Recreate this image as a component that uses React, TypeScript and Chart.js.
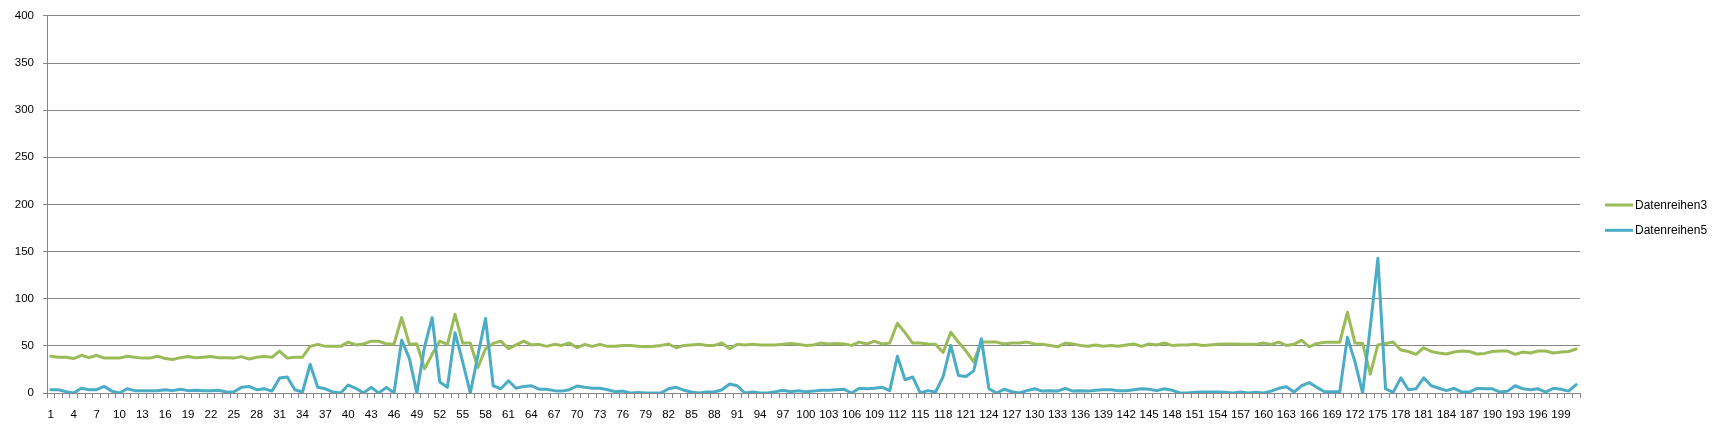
import React, { useEffect, useRef } from 'react';
import { Chart, registerables } from 'chart.js';

Chart.register(...registerables);

// Categories 1..201
const categories: string[] = Array.from({ length: 201 }, (_, i) => String(i + 1));

const seriesNames = ['Datenreihen3', 'Datenreihen5'];
const seriesColors = ['#9BBB59', '#4BACC6'];

const datenreihen3: number[] = [
  39, 38, 38, 36.5, 40, 37.5, 40, 37, 37, 37,
  39, 38, 37, 37, 39, 36.5, 35.5, 37.5, 38.6, 37.5,
  38, 38.6, 37.5, 37.5, 37, 38.6, 36, 38, 38.6, 38,
  44.5, 37, 38, 38, 49.5, 51.6, 49.5, 49.5, 49.5, 54,
  51, 52, 55, 55, 52, 52, 80, 52, 52, 25.6,
  41, 55, 51.6, 83.5, 53, 53, 27, 47, 52.6, 55,
  47, 51, 55, 51, 51.6, 49.5, 51.6, 50.5, 53, 48,
  51.6, 49.5, 51.6, 49.5, 49.5, 50.5, 50.5, 49.5, 49, 49.5,
  50.5, 52, 48, 50.5, 51, 51.6, 50.5, 50.5, 53, 47,
  51.6, 51, 51.6, 51, 51, 51, 51.6, 52.6, 51.6, 50.5,
  51, 53, 52, 52.6, 52, 50.5, 54, 52, 55, 52,
  53, 74, 64, 53, 53, 52, 51.6, 43, 64.5, 54,
  44.5, 33, 54, 54, 54, 52, 53, 53, 54, 52,
  51.6, 50.5, 49, 53, 52, 50.5, 49.5, 51, 49.5, 50.5,
  49.5, 51, 52, 49.5, 52, 51, 53, 50.5, 51, 51,
  51.6, 50.5, 51, 51.6, 52, 52, 51.6, 51.6, 51.6, 53,
  51.6, 54, 50.5, 51.6, 56, 49, 52.6, 53.7, 53.7, 53.7,
  85.6, 53, 52.6, 20, 51, 52.6, 54, 45.6, 44, 41,
  48, 44, 42.5, 41.4, 43.5, 44.5, 44, 41.4, 42, 44,
  44.5, 44.5, 41, 43.5, 42.5, 44.5, 44.5, 42.5, 43.5, 44,
  46.7,
];

const datenreihen5: number[] = [
  3.5, 3.5, 1.4, 0, 5, 3.5, 3.5, 7, 2, 0,
  4.5, 2.5, 2.5, 2.5, 2.5, 3.5, 2.5, 4, 2.5, 3,
  2.5, 2.5, 3, 1, 1.4, 6, 7, 3.5, 4.5, 2,
  16, 17, 3.5, 1, 30.5, 6, 4.5, 1, 0, 8.4,
  5, 0, 6, 0, 6, 0, 56, 37, 0, 49,
  80, 11.6, 6, 64, 33, 0, 40, 79, 7.7, 4.5,
  13, 5, 7, 7.7, 4, 4, 2.5, 2, 3.5, 7.4,
  6, 5, 5, 3.5, 1.4, 2, 0, 0.5, 0, 0,
  0, 4.5, 6, 3, 1, 0, 1, 1, 3.5, 9.5,
  7.7, 0, 1, 0, 0, 1.4, 3, 1.4, 2.5, 1.4,
  2, 3, 3, 3.5, 4, 0, 5, 4.5, 5, 6,
  2.5, 39, 14, 17, 0, 2.5, 1, 17.5, 50.5, 18.6,
  17.5, 23.5, 57.5, 4.5, 0, 4, 1.4, 0, 2.5, 4.5,
  2, 2.5, 2, 5, 2, 2.5, 2, 3, 3.5, 3.5,
  2.5, 2.5, 3.5, 4.5, 4, 2.5, 4.5, 3, 0, 0,
  0.7, 1, 1, 1, 0.7, 0, 1, 0, 0.7, 0,
  2, 5, 6.7, 1, 7.7, 11, 6, 1.4, 1.4, 1.4,
  59, 33, 0, 70, 143, 4.5, 0.7, 16, 3.5, 4.5,
  16, 7.7, 5, 2.5, 5, 1, 1, 5, 4.5, 4.5,
  1, 2, 7.7, 4.5, 3.5, 4.5, 1, 5, 4, 2,
  8.8,
];

const FONT = '"Liberation Sans", Arial, sans-serif';

const legendPlugin = {
  id: 'customLegend',
  afterDraw(chart: any) {
    const ctx = chart.ctx;
    const x0 = chart.chartArea.right + 25;
    ctx.save();
    seriesNames.forEach((name, k) => {
      const y = 205 + k * 25.3;
      ctx.strokeStyle = seriesColors[k];
      ctx.lineWidth = 3;
      ctx.lineCap = 'butt';
      ctx.beginPath();
      ctx.moveTo(x0, y);
      ctx.lineTo(x0 + 28, y);
      ctx.stroke();
      ctx.fillStyle = '#000';
      ctx.font = `12px ${FONT}`;
      ctx.textBaseline = 'middle';
      ctx.textAlign = 'left';
      ctx.fillText(name, x0 + 30, y + 0.5);
    });
    ctx.restore();
  },
};

export default function App() {
  const canvasRef = useRef<HTMLCanvasElement | null>(null);

  useEffect(() => {
    if (!canvasRef.current) return;
    const chart = new Chart(canvasRef.current, {
      type: 'line',
      data: {
        labels: categories,
        datasets: [
          {
            label: seriesNames[0],
            data: datenreihen3,
            borderColor: seriesColors[0],
            backgroundColor: seriesColors[0],
            borderWidth: 3,
            pointRadius: 0,
            tension: 0,
            borderJoinStyle: 'round',
            borderCapStyle: 'round',
            order: 1,
          },
          {
            label: seriesNames[1],
            data: datenreihen5,
            borderColor: seriesColors[1],
            backgroundColor: seriesColors[1],
            borderWidth: 3,
            pointRadius: 0,
            tension: 0,
            borderJoinStyle: 'round',
            borderCapStyle: 'round',
            order: 0,
          },
        ],
      },
      options: {
        responsive: false,
        maintainAspectRatio: false,
        animation: false,
        events: [],
        layout: { padding: { left: 0, right: 142, top: 13, bottom: 0 } },
        plugins: {
          legend: { display: false },
          tooltip: { enabled: false },
        },
        scales: {
          x: {
            type: 'category',
            offset: true,
            grid: {
              drawOnChartArea: false,
              drawTicks: true,
              tickLength: 5,
              color: '#868686',
              offset: true,
            },
            border: { color: '#868686', width: 1 },
            ticks: {
              autoSkip: false,
              maxRotation: 0,
              minRotation: 0,
              padding: 10,
              color: '#000',
              font: { family: FONT, size: 11.5 },
              callback: (_v: any, i: number) => (i % 3 === 0 ? categories[i] : ''),
            },
            afterFit: (s: any) => {
              s.height = 43;
            },
          },
          y: {
            min: 0,
            max: 400,
            ticks: {
              stepSize: 50,
              padding: 9,
              color: '#000',
              font: { family: FONT, size: 11.5 },
            },
            grid: { color: '#868686', tickLength: 4, drawTicks: true },
            border: { color: '#868686', width: 1 },
            afterFit: (s: any) => {
              s.width = 47;
            },
          },
        },
      },
      plugins: [legendPlugin],
    });
    return () => chart.destroy();
  }, []);

  return (
    <div style={{ position: 'fixed', left: 0, top: 0, width: 1722, height: 436, background: '#fff' }}>
      <canvas ref={canvasRef} width={1722} height={436} style={{ width: 1722, height: 436, display: 'block' }} />
    </div>
  );
}
